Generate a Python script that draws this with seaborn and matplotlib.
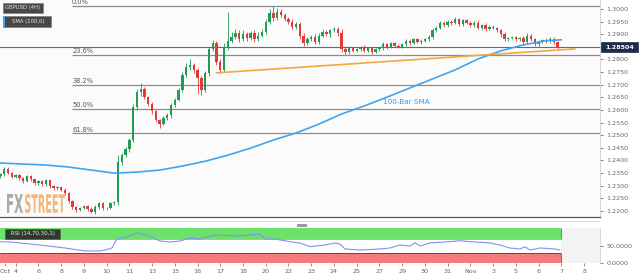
import numpy as np
import pandas as pd
import matplotlib
matplotlib.use("Agg")
import matplotlib.pyplot as plt
import seaborn as sns
from matplotlib.patches import Rectangle, PathPatch
from matplotlib.textpath import TextPath
from matplotlib.font_manager import FontProperties
from matplotlib.transforms import Affine2D
from matplotlib.lines import Line2D

sns.set_theme(style="white")
plt.rcParams["font.family"] = ["DejaVu Sans"]

# ---------------- data (4H bars, Oct 3 - Nov 6) ----------------
first_open = 1.2340
closes = [
    1.2345, 1.2368, 1.2352, 1.2335,                      # Oct 3
    1.2342, 1.2330, 1.2318, 1.2338, 1.2325, 1.2310,      # Oct 4
    1.2318, 1.2305, 1.2322, 1.2300, 1.2290, 1.2294,      # Oct 7
    1.2285, 1.2270, 1.2240, 1.2215, 1.2205, 1.2212,      # Oct 8
    1.2220, 1.2208, 1.2196, 1.2215, 1.2230, 1.2210,      # Oct 9
    1.2212, 1.2230, 1.2235, 1.2395, 1.2420, 1.2445,      # Oct 10
    1.2480, 1.2610, 1.2670, 1.2685, 1.2650, 1.2625,      # Oct 11
    1.2595, 1.2560, 1.2545, 1.2570, 1.2580, 1.2620,      # Oct 14
    1.2640, 1.2680, 1.2740, 1.2770, 1.2780, 1.2760,      # Oct 15
    1.2725, 1.2680, 1.2745, 1.2840, 1.2865, 1.2790,      # Oct 16
    1.2760, 1.2850, 1.2875, 1.2890, 1.2905, 1.2880,      # Oct 17
    1.2900, 1.2885, 1.2905, 1.2880, 1.2895, 1.2910,      # Oct 18
    1.2950, 1.2985, 1.2965, 1.2990, 1.2975, 1.2960,      # Oct 21
    1.2950, 1.2930, 1.2940, 1.2895, 1.2865, 1.2880,      # Oct 22
    1.2890, 1.2870, 1.2895, 1.2910, 1.2900, 1.2915,      # Oct 23
    1.2920, 1.2905, 1.2840, 1.2830, 1.2845, 1.2835,      # Oct 24
    1.2840, 1.2850, 1.2835, 1.2845, 1.2830, 1.2840,      # Oct 25
    1.2845, 1.2860, 1.2850, 1.2865, 1.2855, 1.2850,      # Oct 28
    1.2860, 1.2875, 1.2865, 1.2880, 1.2870, 1.2875,      # Oct 29
    1.2880, 1.2890, 1.2915, 1.2925, 1.2945, 1.2935,      # Oct 30
    1.2950, 1.2945, 1.2960, 1.2940, 1.2955, 1.2945,      # Oct 31
    1.2935, 1.2945, 1.2925, 1.2935, 1.2920, 1.2930,      # Nov 1
    1.2925, 1.2915, 1.2900, 1.2880, 1.2885, 1.2890,      # Nov 4
    1.2880, 1.2885, 1.2870, 1.2895, 1.2880, 1.2860,      # Nov 5
    1.2870, 1.2878, 1.2872, 1.2880, 1.2868, 1.2850,      # Nov 6
]
upper_wick_pips = [
    6, 5, 8, 4,
    5, 4, 6, 5, 4, 3,
    6, 5, 4, 5, 3, 4,
    4, 5, 6, 5, 4, 3,
    5, 4, 6, 8, 7, 4,
    4, 6, 5, 25, 10, 8,
    10, 12, 15, 20, 8, 6,
    8, 6, 5, 6, 8, 7,
    6, 8, 10, 15, 20, 8,
    6, 8, 10, 8, 12, 10,
    10, 15, 115, 20, 15, 10,
    15, 10, 8, 10, 12, 10,
    12, 15, 27, 12, 10, 8,
    8, 10, 8, 10, 8, 10,
    8, 10, 8, 10, 8, 6,
    10, 8, 15, 10, 8, 6,
    6, 5, 8, 6, 5, 6,
    6, 8, 5, 6, 5, 6,
    6, 5, 8, 6, 5, 6,
    5, 8, 10, 6, 8, 6,
    8, 6, 10, 6, 5, 6,
    6, 8, 10, 6, 8, 5,
    6, 5, 6, 8, 6, 5,
    5, 6, 8, 10, 6, 5,
    8, 5, 6, 8, 10, 5,
]
lower_wick_pips = [
    8, 6, 5, 6,
    5, 6, 8, 5, 6, 7,
    6, 5, 6, 8, 5, 6,
    6, 5, 8, 6, 10, 5,
    6, 8, 3, 6, 8, 5,
    6, 5, 8, 10, 12, 8,
    10, 8, 10, 15, 8, 10,
    10, 8, 15, 6, 8, 10,
    8, 6, 10, 8, 10, 12,
    60, 20, 8, 10, 8, 12,
    15, 10, 12, 10, 8, 10,
    8, 10, 8, 10, 8, 6,
    8, 10, 12, 10, 8, 8,
    10, 8, 10, 12, 10, 8,
    8, 10, 8, 6, 8, 10,
    8, 10, 12, 10, 8, 6,
    6, 8, 6, 5, 8, 6,
    5, 6, 8, 5, 6, 5,
    6, 5, 6, 5, 6, 8,
    6, 5, 8, 6, 5, 6,
    6, 8, 5, 6, 8, 5,
    8, 6, 5, 8, 6, 5,
    6, 8, 10, 8, 6, 5,
    5, 6, 8, 10, 6, 8,
    6, 5, 8, 6, 5, 8,
]

# 100-bar SMA read at daily intervals
sma_bar = [0, 6, 12, 18, 24, 30, 36, 42, 48, 54, 60, 66, 72, 78, 84, 90, 96,
           102, 108, 114, 120, 126, 132, 138, 144, 148]
sma_val = [1.2390, 1.2386, 1.2382, 1.2374, 1.2362, 1.2350, 1.2354, 1.2362,
           1.2378, 1.2397, 1.2421, 1.2449, 1.2481, 1.2509, 1.2544, 1.2584,
           1.2616, 1.2651, 1.2687, 1.2723, 1.2759, 1.2802, 1.2834, 1.2858,
           1.2874, 1.2878]

# support trend line (two anchor points)
trend_bar = [57, 151.6]
trend_val = [1.2747, 1.2842]

# Fibonacci retracement of Oct 9 low -> Oct 21 high
fib_high, fib_low = 1.3012, 1.2195
fib_start_bar = 18.9
fib_ratios = [0.0, 0.236, 0.382, 0.5, 0.618]
fib_labels = ["0.0%", "23.6%", "38.2%", "50.0%", "61.8%"]

last_price = 1.2850
last_label = "1.28504"

# RSI(14)
rsi_bar = [0, 2.6, 10.4, 17, 22.3, 26.3, 27.6, 29.4, 30.7, 32.9, 36, 39.4, 42.1,
           44.7, 47.4, 50, 52.6, 56.6, 63.2, 68.5, 69.8, 72.4, 76.4, 79, 81.7,
           85.6, 88.3, 89.6, 90.9, 94.9, 100.1, 102.8, 105.4, 108.1, 109.4,
           110.7, 113.3, 118.6, 121.2, 123.9, 129.2, 131.8, 134.4, 137.1,
           138.4, 139.7, 142.4, 146.3, 147.6]
rsi_val = [60.9, 60, 51.4, 42.9, 34.3, 34.3, 37.1, 42.9, 68.6, 72.3, 85.7, 77.1,
           62.9, 60, 62.9, 71.4, 68.6, 80, 77.1, 82.9, 68.6, 68.6, 60.9, 57.1,
           46.6, 51.4, 57.1, 54.3, 40, 37.1, 40, 42.9, 51.4, 48.6, 58, 48.6,
           57.1, 60.9, 63.7, 60.9, 57.1, 51.4, 42.9, 40, 46.6, 37.1, 42.9, 40,
           37.1]
rsi_upper, rsi_lower = 70, 30

# x-axis day labels (6 bars per trading day)
day_tick_bar = [1.2] + [4 + 6 * k for k in range(26)]
day_tick_lab = ["Oct", "4", "6", "8", "9", "10", "11", "13", "15", "16", "17",
                "18", "20", "22", "23", "24", "25", "27", "29", "30", "31",
                "Nov", "3", "5", "6", "7", "8"]

price_ticks = [1.3000 - 0.005 * i for i in range(17)]

# ---------------- figure ----------------
W, H = 640, 278
fig = plt.figure(figsize=(W / 100, H / 100), dpi=100, facecolor="white")
XL = (-0.13, 158.2)

def fx(px):
    return px / W

def fy(py):
    return 1 - py / H

ax = fig.add_axes([0, fy(217), fx(600), 217 / H])
ax_r = fig.add_axes([0, fy(263), fx(600), 35 / H])
ax.set_facecolor("#fbfbfb")
ax_r.set_facecolor("#f3f3f3")

# candles
c = np.array(closes)
o = np.r_[first_open, c[:-1]]
hi = np.maximum(o, c) + np.array(upper_wick_pips) * 1e-4
lo = np.minimum(o, c) - np.array(lower_wick_pips) * 1e-4
df = pd.DataFrame({"bar": np.arange(len(c)), "open": o, "close": c,
                   "high": hi, "low": lo})
df["up"] = df["close"] >= df["open"]
up_col, dn_col = "#1f9d55", "#e23a3a"
cols = np.where(df["up"], up_col, dn_col)
ax.vlines(df["bar"], df["low"], df["high"], colors=cols, lw=0.6, zorder=3)
body_b = np.minimum(df["open"], df["close"])
body_h = np.maximum(np.abs(df["close"] - df["open"]), 0.00015)
ax.bar(df["bar"], body_h, bottom=body_b, width=0.62, color=cols, lw=0,
       zorder=4)

# fib lines
for r, lab in zip(fib_ratios, fib_labels):
    lvl = fib_high - r * (fib_high - fib_low)
    ax.hlines(lvl, fib_start_bar, XL[1], color="#8c8c8c", lw=0.9, zorder=2)
    ax.text(fib_start_bar, lvl + 0.0003, lab, fontsize=4.8, color="#555555",
            ha="left", va="bottom", zorder=6)

# current price line
ax.axhline(last_price, color="#6a6a6a", lw=0.8, zorder=2)

# SMA and trend line via seaborn
sns.lineplot(x=sma_bar, y=sma_val, ax=ax, color="#3ea6f2", lw=1.2,
             zorder=5, sort=True)
sns.lineplot(x=trend_bar, y=trend_val, ax=ax, color="#f5a742", lw=1.2,
             zorder=5)
ax.text(101, 1.2632, "100-Bar SMA", fontsize=5.2, color="#3a9be6",
        ha="left", va="center", zorder=6)

ax.set_xlim(*XL)
ax.set_ylim(1.21762, 1.30356)
ax.yaxis.tick_right()
ax.set_yticks(price_ticks)
ax.set_yticklabels(["" if abs(t - last_price) < 0.003 else f"{t:.4f}"
                    for t in price_ticks])
ax.tick_params(axis="y", labelsize=4.6, colors="#666666", length=2.5,
               width=0.6, pad=2, right=True)
ax.set_xticks([])
for s in ["top", "left"]:
    ax.spines[s].set_visible(False)
ax.spines["right"].set_color("#cfcfcf")
ax.spines["right"].set_linewidth(0.6)
ax.spines["bottom"].set_color("#555555")
ax.spines["bottom"].set_linewidth(0.9)
ax.set_xlabel("")
ax.set_ylabel("")

# price label box
fig.add_artist(Rectangle((fx(601), fy(52)), fx(37), 10 / H, transform=fig.transFigure,
                         facecolor="#1d2b4f", edgecolor="#1d2b4f", lw=0.5))
fig.text(fx(619.5), fy(47), last_label, fontsize=4.6, color="white",
         fontweight="bold", ha="center", va="center")

# top-left legend boxes
fig.add_artist(Rectangle((fx(3), fy(13)), fx(40), 10 / H, transform=fig.transFigure,
                         facecolor="#474747", edgecolor="#777777", lw=0.4))
fig.text(fx(23), fy(8), "GBPUSD (4H)", fontsize=3.8, color="#e8e8e8",
         ha="center", va="center")
fig.add_artist(Rectangle((fx(3), fy(27)), fx(48), 11 / H, transform=fig.transFigure,
                         facecolor="#474747", edgecolor="#777777", lw=0.4))
fig.add_artist(Rectangle((fx(3), fy(27)), fx(1.6), 11 / H, transform=fig.transFigure,
                         facecolor="#3ea6f2", lw=0))
fig.text(fx(28), fy(21.5), "SMA (100,0)", fontsize=3.8, color="#e8e8e8",
         ha="center", va="center")

# watermark
fp = FontProperties(family="DejaVu Sans", weight="bold")

def path_text(s, x0, y0, w, h, color, alpha):
    tp = TextPath((0, 0), s, size=10, prop=fp)
    ext = tp.get_extents()
    tr = (Affine2D().translate(-ext.x0, -ext.y0)
          .scale(w / ext.width / W, h / ext.height / H)
          .translate(x0 / W, 1 - (y0 + h) / H) + fig.transFigure)
    fig.add_artist(PathPatch(tp, transform=tr, facecolor=color, lw=0,
                             alpha=alpha))

path_text("FX", 7, 194, 16, 19, "#8f8f8f", 0.75)
path_text("STREET", 25, 194, 40, 19, "#f0a04b", 0.75)

# separator lines / handle
fig.add_artist(Line2D([0, fx(600)], [fy(220.5), fy(220.5)], transform=fig.transFigure,
                      color="#dddddd", lw=0.6))
fig.add_artist(Rectangle((fx(297), fy(227)), fx(10), 3 / H, transform=fig.transFigure,
                         facecolor="#9a9a9a", lw=0))

# ---------------- RSI panel ----------------
end_bar = 148
ax_r.fill_between([XL[0], end_bar], rsi_upper, 100, color="#6be36b", lw=0,
                  zorder=1)
ax_r.fill_between([XL[0], end_bar], rsi_lower, rsi_upper, color="white",
                  lw=0, zorder=1)
ax_r.fill_between([XL[0], end_bar], 0, rsi_lower, color="#f57a7a", lw=0,
                  zorder=1)
ax_r.hlines([rsi_upper], XL[0], end_bar, color="#5cc25c", lw=0.5, zorder=2)
ax_r.hlines([rsi_lower], XL[0], end_bar, color="#8a3a3a", lw=0.7, zorder=2)
ax_r.vlines([end_bar, end_bar], [0, rsi_upper], [rsi_lower, 100],
            colors=["#d95050", "#3fb83f"], lw=0.8, zorder=2)
sns.lineplot(x=rsi_bar, y=rsi_val, ax=ax_r, color="#8391ef", lw=0.8,
             zorder=3)
ax_r.set_xlim(*XL)
ax_r.set_ylim(0, 100)
ax_r.yaxis.tick_right()
ax_r.set_yticks([0, 50])
ax_r.set_yticklabels(["0.0000", "50.0000"])
ax_r.set_xticks(day_tick_bar)
ax_r.set_xticklabels(day_tick_lab)
ax_r.tick_params(axis="x", labelsize=4.6, colors="#666666", length=2,
                 width=0.5, pad=2, bottom=True)
ax_r.tick_params(axis="y", labelsize=4.6, colors="#666666", length=2.5,
                 width=0.6, pad=2, right=True)
for s in ["top", "left", "bottom"]:
    ax_r.spines[s].set_visible(False)
ax_r.spines["right"].set_color("#cfcfcf")
ax_r.spines["right"].set_linewidth(0.6)
ax_r.set_xlabel("")
ax_r.set_ylabel("")

# RSI label box
fig.add_artist(Rectangle((fx(5), fy(238.5)), fx(55), 9.5 / H,
                         transform=fig.transFigure, facecolor="#2f3a2f",
                         edgecolor="#555555", lw=0.4, zorder=10))
fig.text(fx(32.5), fy(233.8), "RSI (14,70,30,1)", fontsize=3.9,
         color="#eeeeee", ha="center", va="center", zorder=11)

fig.savefig("out.png", dpi=100, facecolor="white")
